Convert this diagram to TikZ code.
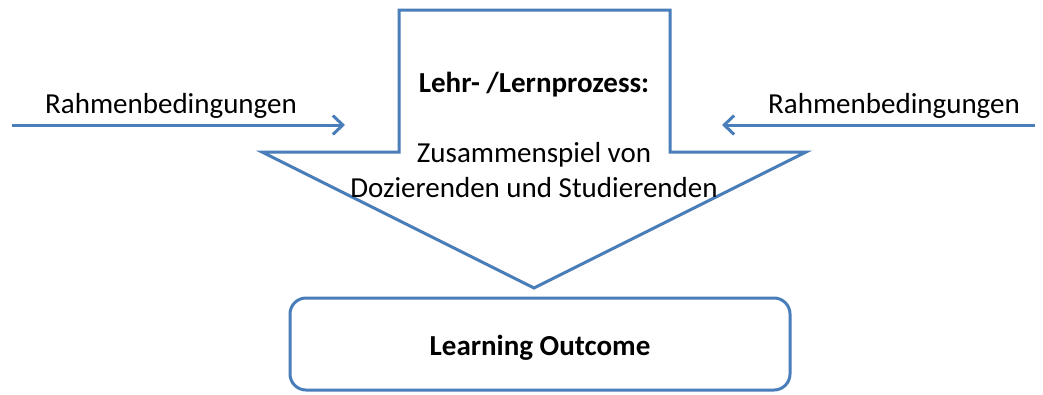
\documentclass[tikz,border=0pt]{standalone}
\usepackage{fontspec}
\setmainfont{Carlito}
\usetikzlibrary{arrows.meta}
\definecolor{officeblue}{HTML}{4A7EBB}
\begin{document}
\begin{tikzpicture}[x=1pt,y=-1pt,
  outline/.style={draw=officeblue, line width=3pt, line join=miter},
  label/.style={inner sep=0pt, font=\fontsize{29}{35}\selectfont, align=center},
  boldlabel/.style={label, font=\fontsize{29}{35}\selectfont\bfseries},
  influence/.style={draw=officeblue, line width=3pt,
    -{Straight Barb[length=10pt,width=19pt,line width=3pt]}},
  resultbox/.style={outline, rounded corners=16pt, minimum width=500pt,
    minimum height=92pt, inner sep=0pt}
]
\useasboundingbox (0,0) rectangle (1043,394);

% block arrow for the teaching/learning process
\draw[outline, fill=white] (399,10) -- (670,10) -- (670,152) -- (806,152)
  -- (534,288) -- (262,152) -- (399,152) -- cycle;
\node[boldlabel] (process) at (534,85) {Lehr- /Lernprozess:};
\node[label, anchor=north] (interplay) at (534,142)
  {Zusammenspiel von\\Dozierenden und Studierenden};

% outcome box
\node[resultbox] (outcome) at (540,344) {};
\node[boldlabel] (outcometext) at (540,348) {Learning Outcome};

% framework conditions from both sides
\coordinate (leftstart) at (12,125);
\coordinate (leftend) at (345,125);
\coordinate (rightstart) at (1035,125);
\coordinate (rightend) at (722,125);
\draw[influence] (leftstart) -- (leftend);
\draw[influence] (rightstart) -- (rightend);
\node[label] (framel) at (171,106) {Rahmenbedingungen};
\node[label] (framer) at (894,106) {Rahmenbedingungen};
\end{tikzpicture}
\end{document}
